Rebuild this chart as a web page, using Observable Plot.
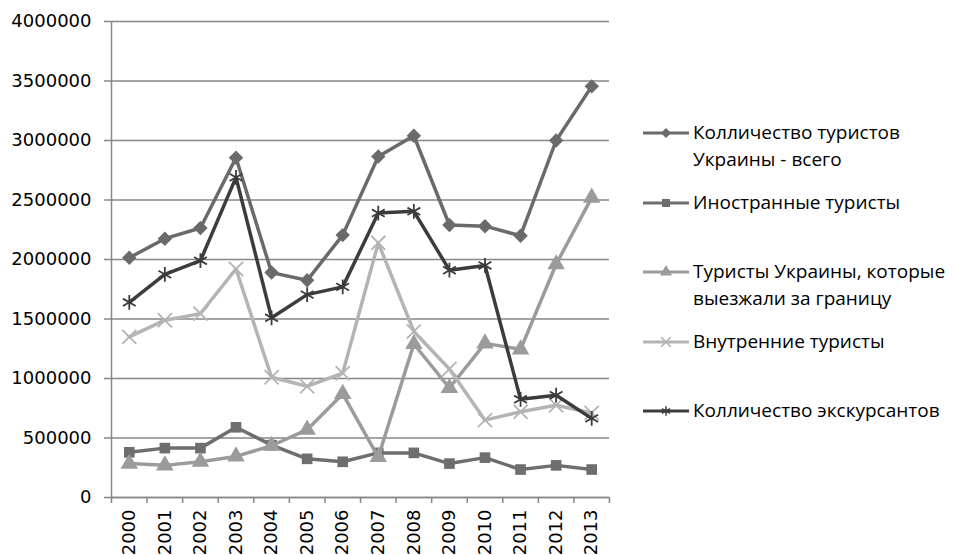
<!DOCTYPE html>
<html>
<head>
<meta charset="utf-8">
<script src="https://cdn.jsdelivr.net/npm/d3@7"></script>
<script src="https://cdn.jsdelivr.net/npm/@observablehq/plot@0.6"></script>
<style>
  html, body { margin: 0; padding: 0; background: #fff; }
  #wrap { position: relative; width: 956px; height: 555px; overflow: hidden; }
  #legend { position: absolute; left: 643px; top: 119px; font-family: "Open Sans", Lato, sans-serif; font-size: 19px; color: #000; }
  .entry { position: relative; height: 69.5px; }
  .entry svg { position: absolute; left: 0; top: 4px; }
  .entry .lbl { position: absolute; left: 50px; top: 0; line-height: 27px; white-space: nowrap; }
</style>
</head>
<body>
<div id="wrap"><div id="legend"></div></div>
<script>
const years = [2000, 2001, 2002, 2003, 2004, 2005, 2006, 2007, 2008, 2009, 2010, 2011, 2012, 2013];
const seriesNames = [
  "Колличество туристов Украины - всего",
  "Иностранные туристы",
  "Туристы Украины, которые выезжали за границу",
  "Внутренние туристы",
  "Колличество экскурсантов"
];
const legendLines = [
  ["Колличество туристов", "Украины - всего"],
  ["Иностранные туристы"],
  ["Туристы Украины, которые", "выезжали за границу"],
  ["Внутренние туристы"],
  ["Колличество экскурсантов"]
];
const totalTourists = [2015000, 2175000, 2265000, 2855000, 1890000, 1825000, 2205000, 2865000, 3040000, 2290000, 2280000, 2200000, 3000000, 3455000];
const foreignTourists = [380000, 415000, 415000, 590000, 440000, 325000, 300000, 375000, 375000, 285000, 335000, 235000, 270000, 235000];
const outboundTourists = [285000, 270000, 300000, 345000, 435000, 570000, 870000, 340000, 1290000, 920000, 1295000, 1245000, 1960000, 2520000];
const domesticTourists = [1350000, 1490000, 1545000, 1920000, 1010000, 935000, 1045000, 2140000, 1395000, 1080000, 650000, 720000, 775000, 710000];
const excursionists = [1640000, 1875000, 1990000, 2690000, 1510000, 1705000, 1770000, 2390000, 2405000, 1910000, 1950000, 825000, 860000, 665000];
const yTicks = [0, 500000, 1000000, 1500000, 2000000, 2500000, 3000000, 3500000, 4000000];

const seriesValues = [totalTourists, foreignTourists, outboundTourists, domesticTourists, excursionists];
const styles = [
  {color: "#6a6a6a", symbol: "diamond2", r: 6.5, filled: true},
  {color: "#6e6e6e", symbol: "square", r: 6, filled: true},
  {color: "#9b9b9b", symbol: "triangle", r: 6.5, filled: true},
  {color: "#b4b4b4", symbol: "times", r: 6.5, filled: false},
  {color: "#3c3c3c", symbol: "asterisk", r: 7, filled: false}
];

const data = [];
seriesNames.forEach((name, i) => {
  years.forEach((yr, j) => data.push({series: name, idx: i, year: yr, value: seriesValues[i][j]}));
});
const bounds = d3.range(years.length + 1).map(k => years[0] - 0.5 + k);

const lineMarks = [];
seriesNames.forEach((name, i) => {
  const s = styles[i];
  const d = data.filter(r => r.idx === i);
  lineMarks.push(Plot.line(d, {x: "year", y: "value", stroke: s.color, strokeWidth: 3.5, strokeLinejoin: "round"}));
  lineMarks.push(Plot.dot(d, s.filled
    ? {x: "year", y: "value", symbol: () => s.symbol, r: s.r, fill: s.color, stroke: "none"}
    : {x: "year", y: "value", symbol: () => s.symbol, r: s.r, stroke: s.color, strokeWidth: 1.8, fill: "none"}));
});

const axisColor = "#878787";
const chart = Plot.plot({
  width: 956,
  height: 555,
  marginLeft: 111,
  marginRight: 347,
  marginTop: 21,
  marginBottom: 58,
  style: {fontFamily: "DejaVu Sans", fontSize: "18px", color: "#000", background: "#fff"},
  x: {type: "linear", domain: [years[0] - 0.5, years[years.length - 1] + 0.5]},
  y: {domain: [0, 4000000]},
  symbol: {type: "identity"},
  marks: [
    Plot.gridY(yTicks, {stroke: axisColor, strokeOpacity: 1, strokeWidth: 1.5}),
    Plot.ruleX([years[0] - 0.5], {stroke: axisColor, strokeWidth: 1.5}),
    Plot.ruleY([0], {stroke: axisColor, strokeWidth: 1.5}),
    Plot.axisY(yTicks, {tickSize: 7, tickPadding: 13, tickFormat: d => String(d), stroke: axisColor, strokeWidth: 1.5, label: null, fill: "#000"}),
    Plot.axisX(bounds, {tickSize: 6, tickFormat: () => "", stroke: axisColor, strokeWidth: 1.5, label: null}),
    Plot.axisX(years, {tickSize: 0, tickPadding: 12, tickRotate: -90, tickFormat: d => String(d), label: null, fill: "#000"}),
    ...lineMarks
  ]
});
document.getElementById("wrap").insertBefore(chart, document.getElementById("legend"));

// legend
const legend = d3.select("#legend");
const sym = {diamond2: d3.symbolDiamond2, square: d3.symbolSquare, triangle: d3.symbolTriangle, times: d3.symbolTimes, asterisk: d3.symbolAsterisk};
seriesNames.forEach((name, i) => {
  const s = styles[i];
  const e = legend.append("div").attr("class", "entry");
  const svg = e.append("svg").attr("width", 48).attr("height", 20);
  svg.append("line").attr("x1", 0).attr("x2", 46).attr("y1", 10).attr("y2", 10).attr("stroke", s.color).attr("stroke-width", 3);
  const r = 4.5;
  svg.append("path").attr("transform", "translate(23,10)")
    .attr("d", d3.symbol(sym[s.symbol], Math.PI * r * r)())
    .attr("fill", s.filled ? s.color : "none")
    .attr("stroke", s.filled ? "none" : s.color)
    .attr("stroke-width", 1.5);
  e.append("div").attr("class", "lbl").html(legendLines[i].join("<br>"));
});
</script>
</body>
</html>
